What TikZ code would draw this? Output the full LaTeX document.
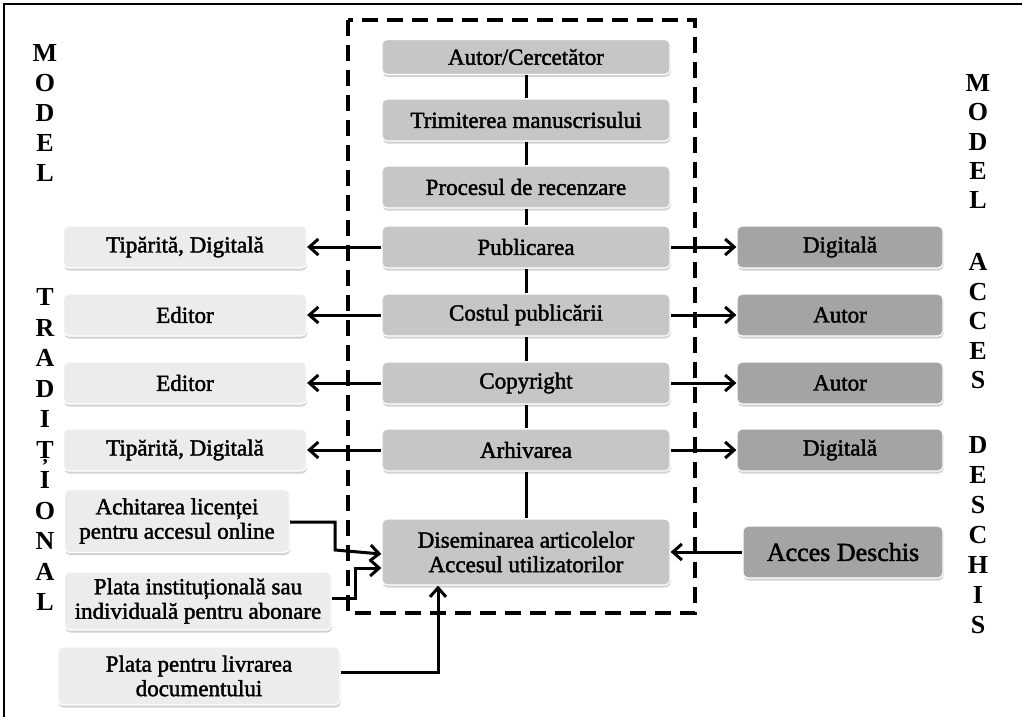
\documentclass[tikz,border=0pt]{standalone}
\usepackage{fontspec}
\setmainfont{Liberation Serif}
\newfontfamily\bxfont[FakeBold=1.8]{Liberation Serif}
\usetikzlibrary{arrows.meta,shadows}
\definecolor{cgray}{RGB}{198,198,198}
\definecolor{lgray}{RGB}{236,236,236}
\definecolor{rgray}{RGB}{164,164,164}
\begin{document}
\begin{tikzpicture}[x=1pt,y=-1pt,
  box/.style={rounded corners=5pt, draw=white, line width=1.2pt, minimum height=42pt,
    inner sep=2pt, align=center, font=\bxfont\fontsize{23}{24.5}\selectfont,
    drop shadow={shadow xshift=0.6pt, shadow yshift=-2.5pt, opacity=0.45, fill=gray!80}},
  cbox/.style={box, fill=cgray, minimum width=288pt},
  lbox/.style={box, fill=lgray, minimum width=243pt},
  rbox/.style={box, fill=rgray, minimum width=206pt},
  sidel/.style={font=\bfseries\fontsize{26}{26}\selectfont, inner sep=0pt, text height=17pt, text depth=0pt},
  conn/.style={line width=3pt},
  arr/.style={line width=3pt, -{Straight Barb[length=9pt,width=16pt]}},
  dashbox/.style={line width=3.5pt, dash pattern=on 16pt off 9pt}
]
\useasboundingbox (0,0) rectangle (1022,717);
\fill[white] (0,0) rectangle (1022,717);
\draw[line width=1.5pt] (1022,4) -- (4,4) -- (4,717);

% central column
\node[cbox, minimum height=35pt] (c1) at (526,57) {Autor/Cercetător};
\node[cbox] (c2) at (526,120) {Trimiterea manuscrisului};
\node[cbox] (c3) at (526,187) {Procesul de recenzare};
\node[cbox] (c4) at (526,247) {Publicarea};
\node[cbox] (c5) at (526,315) {Costul publicării};
\node[cbox] (c6) at (526,383) {Copyright};
\node[cbox] (c7) at (526,450) {Arhivarea};
\node[cbox, minimum height=66pt] (dis) at (526,552) {Diseminarea articolelor\\Accesul utilizatorilor};

% left column
\node[lbox] (l1) at (185,247) {Tipărită, Digitală};
\node[lbox] (l2) at (185,315) {Editor};
\node[lbox] (l3) at (185,383) {Editor};
\node[lbox] (l4) at (185,450) {Tipărită, Digitală};
\node[lbox, minimum width=225pt, minimum height=63pt] (ach) at (177,521) {Achitarea licenței\\pentru accesul online};
\node[lbox, minimum width=267pt, minimum height=58pt] (pin) at (198,601) {Plata instituțională sau\\individuală pentru abonare};
\node[lbox, minimum width=282pt, minimum height=58pt] (pli) at (199,676) {Plata pentru livrarea\\documentului};

% right column
\node[rbox] (r1) at (840,247) {Digitală};
\node[rbox] (r2) at (840,315) {Autor};
\node[rbox] (r3) at (840,383) {Autor};
\node[rbox] (r4) at (840,450) {Digitală};
\node[rbox, minimum width=200pt, minimum height=52pt, font=\bxfont\fontsize{26}{28}\selectfont] (acc) at (843,552) {Acces Deschis};

% dashed frame
\draw[dashbox] (348,20) rectangle (695,613);

% chain
\draw[conn] (c1) -- (c2);
\draw[conn] (c2) -- (c3);
\draw[conn] (c3) -- (c4);
\draw[conn] (c4) -- (c5);
\draw[conn] (c5) -- (c6);
\draw[conn] (c6) -- (c7);
\draw[conn] (c7) -- (dis);

% side arrows
\draw[arr] (c4.west) -- (l1.east);
\draw[arr] (c5.west) -- (l2.east);
\draw[arr] (c6.west) -- (l3.east);
\draw[arr] (c7.west) -- (l4.east);
\draw[arr] (c4.east) -- (r1.west);
\draw[arr] (c5.east) -- (r2.west);
\draw[arr] (c6.east) -- (r3.west);
\draw[arr] (c7.east) -- (r4.west);
\draw[arr] (acc.west) -- (dis.east |- acc.west);

% bottom-left connectors
\coordinate (d1) at ([yshift=-2pt]dis.west);
\coordinate (d2) at ([yshift=-16pt]dis.west);
\draw[arr] ([yshift=-1pt]ach.east) -| (335,550) -- (d1);
\draw[arr] ([yshift=3pt]pin.east) -| (355,568) -- (d2);
\coordinate (d3) at (438,0);
\draw[arr] ([yshift=4pt]pli.east) -| (dis.south -| d3);

% side letters
\foreach \l [count=\i] in {M,O,D,E,L}
  \node[sidel] (lm\i) at (45,{53+30*(\i-1)}) {\l};
\foreach \l [count=\i] in {T,R,A,D,I,Ț,I,O,N,A,L}
  \node[sidel] (lt\i) at (45,{297+30.5*(\i-1)}) {\l};
\foreach \l [count=\i] in {M,O,D,E,L}
  \node[sidel] (rm\i) at (978,{83+29.25*(\i-1)}) {\l};
\foreach \l [count=\i] in {A,C,C,E,S}
  \node[sidel] (ra\i) at (978,{262+29.5*(\i-1)}) {\l};
\foreach \l [count=\i] in {D,E,S,C,H,I,S}
  \node[sidel] (rd\i) at (978,{445+30*(\i-1)}) {\l};
\end{tikzpicture}
\end{document}
